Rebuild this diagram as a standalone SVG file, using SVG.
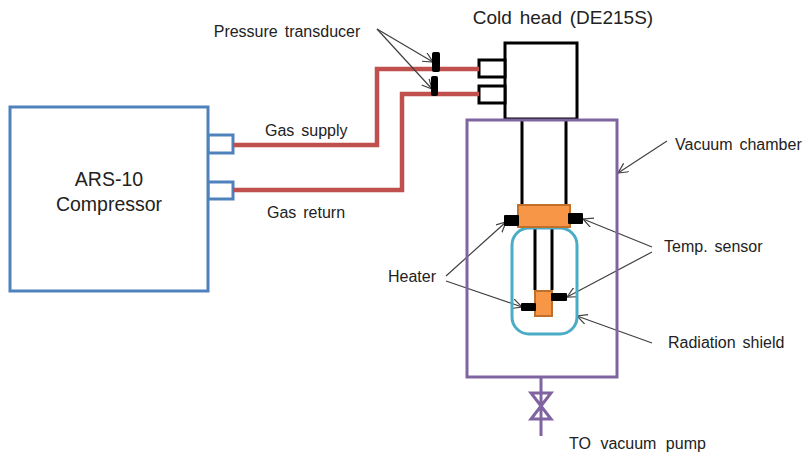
<svg xmlns="http://www.w3.org/2000/svg" width="803" height="454" viewBox="0 0 803 454">
<style>
text{font-family:"Liberation Sans",Arial,sans-serif;font-size:16px;fill:#222;word-spacing:2.5px}
.blue{fill:#fff;stroke:#4f81bd;stroke-width:3}
.blk{fill:#fff;stroke:#000;stroke-width:3}
.pipe{fill:none;stroke:#c0504d;stroke-width:4.5}
.rod{fill:none;stroke:#000;stroke-width:3}
.pur{fill:none;stroke:#8064a2;stroke-width:3}
.lead{fill:none;stroke:#404040;stroke-width:1.2;marker-end:url(#a)}
.sens{fill:#000}
.cu{fill:#f79646;stroke:#c0702a;stroke-width:2}
</style>
<defs><marker id="a" markerUnits="userSpaceOnUse" markerWidth="12" markerHeight="12" refX="10" refY="5" orient="auto"><path d="M0 0L10 5L0 10" fill="none" stroke="#404040" stroke-width="1.2"/></marker></defs>
<g id="compressor"><rect class="blue" x="208" y="135" width="25" height="18"/><rect class="blue" x="208" y="182" width="25" height="17"/><rect class="blue" x="10" y="107" width="198" height="184"/><text x="109" y="186" text-anchor="middle" style="font-size:19.5px">ARS-10</text><text x="109" y="211" text-anchor="middle" style="font-size:19.5px">Compressor</text></g>
<g id="cold-head"><rect class="blk" x="505" y="43" width="72" height="76"/><rect class="blk" x="479" y="60" width="26" height="17"/><rect class="blk" x="479" y="86" width="26" height="17"/><text x="563" y="24" text-anchor="middle" style="font-size:19px">Cold head (DE215S)</text></g>
<g id="connectors">
<path class="pipe" d="M233 145H377V69H479"/><path class="pipe" d="M233 190H402V94H479"/>
<path class="rod" d="M522 120V205M566 120V205M535 228V290M552 228V290"/>
<path class="lead" d="M377 29L433 62"/><path class="lead" d="M377 29L432 89"/>
<path class="lead" d="M446 276L506 222"/><path class="lead" d="M446 281L522 307"/>
<path class="lead" d="M652 247L583 219"/><path class="lead" d="M652 252L567 297"/>
<path class="lead" d="M652 343L577 316"/><path class="lead" d="M667 141L618 173"/>
<path d="M541 378V436M531 393H551L531 419H551Z" fill="none" stroke="#8064a2" stroke-width="3"/>
</g>
<g id="pressure-transducers"><rect class="sens" x="432" y="52" width="8" height="20" rx="2"/><rect class="sens" x="431" y="76" width="7" height="20" rx="2"/><text x="287" y="37" text-anchor="middle">Pressure transducer</text></g>
<g id="vacuum-chamber"><rect class="pur" x="467" y="120" width="150" height="257"/><text x="675" y="150">Vacuum chamber</text></g>
<g id="radiation-shield"><rect x="512" y="228" width="65" height="106" rx="17" fill="none" stroke="#4bacc6" stroke-width="3"/><text x="668" y="348">Radiation shield</text></g>
<g id="stage-1"><rect class="cu" x="518" y="205" width="52" height="22"/><rect class="sens" x="504" y="215" width="15" height="11" rx="1"/><rect class="sens" x="568" y="213" width="15" height="11" rx="1"/></g>
<g id="stage-2"><rect class="cu" x="535" y="291" width="17" height="25"/><rect class="sens" x="521" y="303" width="15" height="8" rx="1"/><rect class="sens" x="551" y="293" width="16" height="8" rx="1"/></g>
<g id="labels"><text x="265" y="136">Gas supply</text><text x="267" y="218">Gas return</text><text x="388" y="282">Heater</text><text x="664" y="252">Temp. sensor</text><text x="569" y="449" style="word-spacing:5px">TO vacuum pump</text></g>
</svg>
